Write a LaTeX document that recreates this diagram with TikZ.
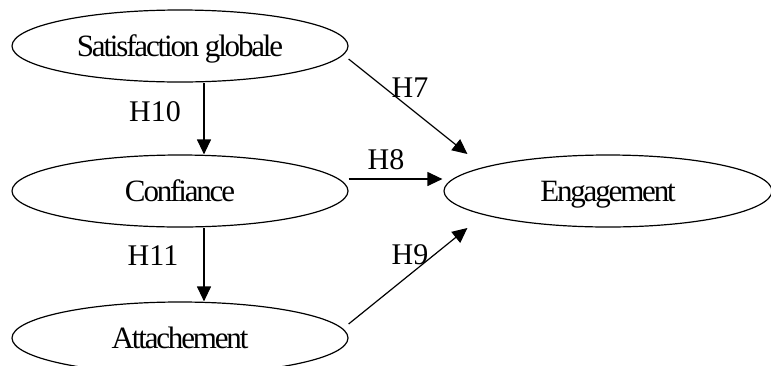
\documentclass[tikz,border=0pt]{standalone}
\usepackage{fontspec}
\setmainfont{Liberation Serif}
\newfontfamily\tightserif[LetterSpace=-7]{Liberation Serif}
\usepackage{tikz}
\usetikzlibrary{shapes.geometric, arrows.meta, calc}

\tikzset{
  construct/.style={draw, ellipse, line width=1.2pt, minimum width=336pt, minimum height=72pt,
    inner sep=0pt, text height=21pt, text depth=1pt,
    font=\tightserif\fontsize{31}{37}\selectfont},
  hyp/.style={inner sep=0pt, font=\fontsize{30}{36}\selectfont},
  path/.style={line width=1.2pt, -{Triangle[length=15pt,width=14pt]}}
}

\begin{document}
\begin{tikzpicture}[x=1pt, y=-1pt]
\useasboundingbox (0,0) rectangle (771,365);

\node[construct] (sat) at (180,46) {Satisfaction globale};
\node[construct] (conf) at (180,191) {Confiance};
\node[construct] (att) at (180,338) {Attachement};
\node[construct, minimum width=328pt] (eng) at (608,191) {Engagement};

\node[hyp] (h10) at (155,112) {H10};
\node[hyp] (h11) at (153,256) {H11};
\node[hyp] (h7) at (410,88) {H7};
\node[hyp] (h8) at (386,160) {H8};
\node[hyp] (h9) at (410,255) {H9};

\draw[path] ($(sat.south)+(24,0)$)--($(conf.north)+(24,0)$);
\draw[path] ($(conf.south)+(24,0)$)--($(att.north)+(24,0)$);
\draw[path] ($(sat.east)+(0,13)$)--($(eng.west)+(24,-37)$);
\draw[path] ($(conf.east)+(0,-12)$)--($(eng.west)+(-1,-12)$);
\draw[path] ($(att.east)+(0,-14)$)--($(eng.west)+(24,37)$);
\end{tikzpicture}
\end{document}
